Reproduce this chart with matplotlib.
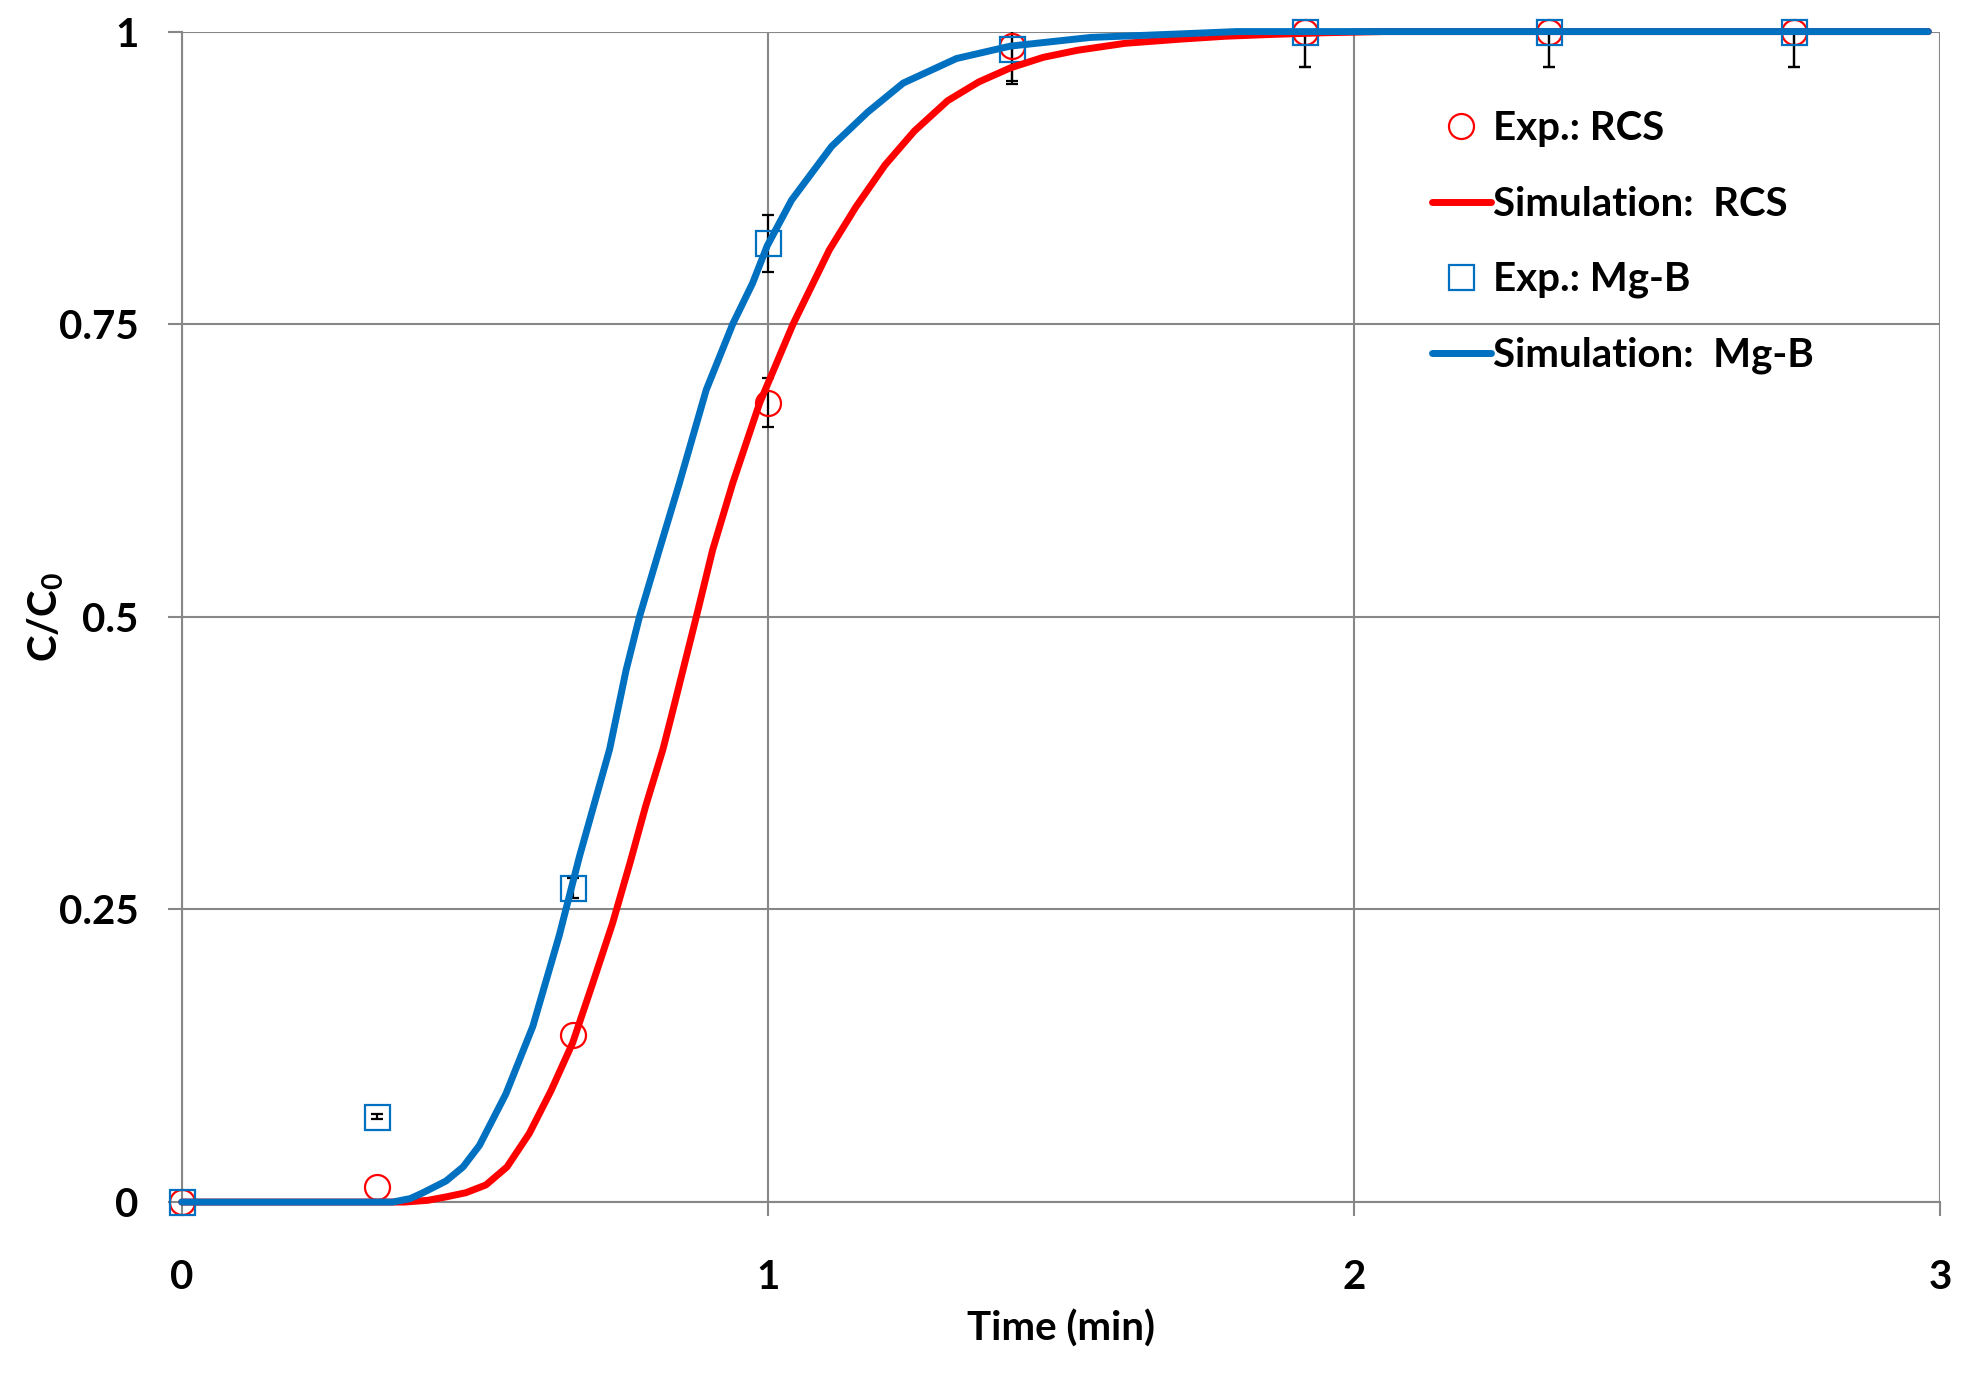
import numpy as np
import matplotlib
matplotlib.use("Agg")
import matplotlib.pyplot as plt

# experimental points (time in min, C/C0)
t_exp = np.array([0, 0.333, 0.667, 1.0, 1.417, 1.917, 2.333, 2.75])
rcs_exp = np.array([0, 0.013, 0.143, 0.683, 0.988, 1.0, 1.0, 1.0])
rcs_err = np.array([0, 0, 0, 0.021, 0.03, 0.03, 0.03, 0.03])
mgb_exp = np.array([0, 0.073, 0.268, 0.819, 0.985, 1.0, 1.0, 1.0])
mgb_err = np.array([0, 0.002, 0.0085, 0.024, 0.03, 0.03, 0.03, 0.03])

# simulated breakthrough curves
t_rcs = [0, 0.38, 0.42, 0.451, 0.485, 0.519, 0.555, 0.593, 0.63, 0.667, 0.70,
         0.735, 0.765, 0.792, 0.821, 0.838, 0.878, 0.906, 0.94, 0.986, 1.043,
         1.105, 1.15, 1.20, 1.25, 1.307, 1.36, 1.414, 1.47, 1.528, 1.61, 1.703,
         1.78, 1.856, 1.95, 2.05, 2.98]
c_rcs = [0, 0, 0.0015, 0.0044, 0.008, 0.0146, 0.03, 0.0586, 0.095, 0.136, 0.185,
         0.238, 0.29, 0.339, 0.3867, 0.42, 0.5, 0.5574, 0.614, 0.6826, 0.75,
         0.8135, 0.85, 0.886, 0.915, 0.941, 0.957, 0.969, 0.978, 0.984, 0.99, 0.9935,
         0.996, 0.9975, 0.999, 1.0, 1.0]
t_mgb = [0, 0.36, 0.39, 0.411, 0.451, 0.48, 0.508, 0.553, 0.599, 0.644, 0.6785,
         0.73, 0.758, 0.781, 0.815, 0.849, 0.895, 0.94, 0.974, 0.999, 1.0405,
         1.109, 1.17, 1.231, 1.322, 1.414, 1.551, 1.703, 1.80, 2.98]
c_mgb = [0, 0, 0.003, 0.0078, 0.018, 0.03, 0.0484, 0.0923, 0.15, 0.2275, 0.295,
         0.3867, 0.454, 0.5, 0.5574, 0.614, 0.694, 0.75, 0.785, 0.817, 0.856,
         0.902, 0.931, 0.956, 0.977, 0.9876, 0.995, 0.998, 1.0, 1.0]

red = '#FF0000'
blue = '#0070C0'
gray = '#878787'

plt.rcParams['font.family'] = ['Lato', 'DejaVu Sans']
plt.rcParams['font.weight'] = 'bold'

fig = plt.figure(figsize=(19.75, 13.73), dpi=100)
ax = fig.add_axes([0.092, 0.1245, 0.8903, 0.8525])

# error bars only where there is one
m = rcs_err > 0
ax.errorbar(t_exp[m], rcs_exp[m], yerr=rcs_err[m], fmt='none', ecolor='black',
            elinewidth=1.6, capsize=4.5, capthick=1.6, zorder=2.5)
m = mgb_err > 0
ax.errorbar(t_exp[m], mgb_exp[m], yerr=mgb_err[m], fmt='none', ecolor='black',
            elinewidth=1.6, capsize=4.5, capthick=1.6, zorder=2.5)

h1, = ax.plot(t_exp, rcs_exp, 'o', ms=18, mfc='none', mec=red, mew=1.6,
              zorder=3, clip_on=False, label='Exp.: RCS')
h3, = ax.plot(t_exp, mgb_exp, 's', ms=18, mfc='none', mec=blue, mew=1.6,
              zorder=3, clip_on=False, label='Exp.: Mg-B')
h2, = ax.plot(t_rcs, c_rcs, '-', color=red, lw=5, zorder=4, clip_on=False,
              solid_capstyle='round', solid_joinstyle='round',
              label='Simulation:  RCS')
h4, = ax.plot(t_mgb, c_mgb, '-', color=blue, lw=5, zorder=4.1, clip_on=False,
              solid_capstyle='round', solid_joinstyle='round',
              label='Simulation:  Mg-B')

ax.set_xlim(0, 3)
ax.set_ylim(0, 1)
ax.set_xticks([0, 1, 2, 3])
ax.set_xticklabels(['0', '1', '2', '3'])
ax.set_yticks([0, 0.25, 0.5, 0.75, 1])
ax.set_yticklabels(['0', '0.25', '0.5', '0.75', '1'])
ax.grid(True, color=gray, lw=1.5, zorder=0)
ax.set_axisbelow(True)
for s in ['top', 'right']:
    ax.spines[s].set_visible(False)
for s in ['left', 'bottom']:
    ax.spines[s].set_color(gray)
    ax.spines[s].set_linewidth(1.5)
ax.tick_params(axis='both', colors=gray, labelcolor='black', length=10,
               width=1.5, labelsize=29)
ax.tick_params(axis='x', pad=31)
ax.tick_params(axis='y', pad=21)

ax.set_xlabel('Time (min)', fontsize=29, fontweight='bold')
ax.set_ylabel('C/C$_\\mathregular{0}$', fontsize=29, fontweight='bold')
ax.xaxis.set_label_coords(0.5, -0.092)
ax.yaxis.set_label_coords(-0.066, 0.5)

leg = fig.legend(handles=[h1, h2, h3, h4], loc='upper left',
                 bbox_to_anchor=(0.725, 0.9196), frameon=False, fontsize=29,
                 handlelength=1.46, handletextpad=0.05, labelspacing=0.95,
                 borderpad=0, borderaxespad=0)

fig.savefig('out.png', dpi=100)
